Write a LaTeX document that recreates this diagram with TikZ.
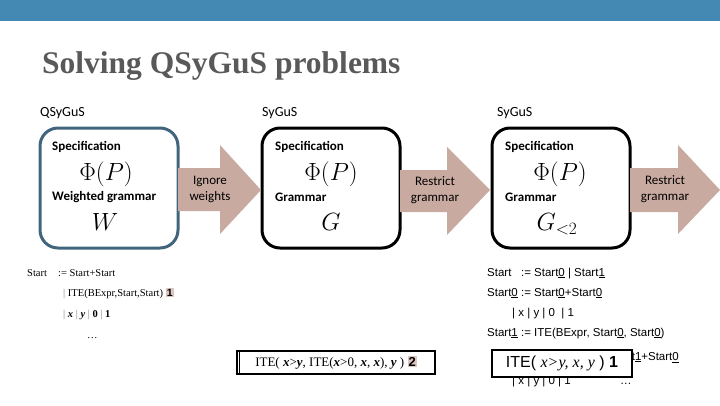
\documentclass[tikz,border=0pt]{standalone}
\usepackage{amsmath,amssymb}
\usepackage{fontspec}
\setmainfont{Liberation Serif}
\newfontfamily\calibri{Carlito}
\newfontfamily\arial{Liberation Sans}
\usetikzlibrary{positioning}
\definecolor{barblue}{HTML}{4389B3}
\definecolor{qblue}{HTML}{41657D}
\definecolor{arrowrose}{HTML}{C9AAA0}
\definecolor{hlrose}{HTML}{DCC6C0}
\definecolor{titlegray}{HTML}{595959}
\newcommand{\hlnum}[1]{{\setlength{\fboxsep}{1pt}\colorbox{hlrose}{\arial\bfseries #1}}}

\begin{document}
\begin{tikzpicture}[
  x=1pt, y=-1pt,
  probbox/.style={draw, line width=3pt, rounded corners=18pt, minimum width=138pt, minimum height=120pt},
  tag/.style={font=\calibri\fontsize{14}{16}\selectfont, inner sep=0pt, anchor=west},
  part/.style={font=\calibri\bfseries\fontsize{13}{15}\selectfont, inner sep=0pt, anchor=west},
  formula/.style={font=\fontsize{26}{30}\selectfont, inner sep=0pt},
  blockarr/.style={fill=arrowrose},
  arrtext/.style={font=\calibri\fontsize{13}{16}\selectfont, align=center, inner sep=0pt},
  gram/.style={font=\fontsize{10.5}{12}\selectfont, inner sep=0pt, anchor=base west},
  sgram/.style={font=\arial\fontsize{11.5}{13}\selectfont, inner sep=0pt, anchor=base west},
  exbox/.style={draw, line width=1.5pt, fill=white, inner sep=2pt}
]
\useasboundingbox (0,0) rectangle (720,405);
\fill[barblue] (0,0) rectangle (720,21);
\node[font=\bfseries\fontsize{31.5}{36}\selectfont, text=titlegray, inner sep=0pt, anchor=base west] (title) at (42,73) {Solving QSyGuS problems};

% the three problem boxes
\node[probbox, draw=qblue] (qsygus) at (109,188) {};
\node[probbox] (sygus) at (331,188) {};
\node[probbox] (sygusr) at (561,188) {};

\node[tag] (qsyguslbl) at (40,113) {QSyGuS};
\node[tag] (syguslbl) at (262,113) {SyGuS};
\node[tag] (sygusrlbl) at (497,113) {SyGuS};

\node[part] (spec1) at (52,147) {Specification};
\node[formula] (phi1) at (106,174) {$\Phi(P)$};
\node[part] (gram1) at (52,197) {Weighted grammar};
\node[formula] (w) at (105,222) {$W$};

\node[part] (spec2) at (275,147) {Specification};
\node[formula] (phi2) at (331,174) {$\Phi(P)$};
\node[part] (gram2) at (275,197) {Grammar};
\node[formula] (g) at (331,222) {$G$};

\node[part] (spec3) at (505,147) {Specification};
\node[formula] (phi3) at (560,174) {$\Phi(P)$};
\node[part] (gram3) at (505,197) {Grammar};
\node[formula] (glt) at (557,224) {$G_{<2}$};

% block arrows
\fill[blockarr] (178,168) -- (220,168) -- (220,145) -- (261,190) -- (220,234) -- (220,211) -- (178,211) -- cycle;
\node[arrtext] (ignore) at (210,189) {Ignore\\weights};
\fill[blockarr] (400,170) -- (447,170) -- (447,147) -- (490,190) -- (447,235) -- (447,212) -- (400,212) -- cycle;
\node[arrtext] (restrict1) at (435,190) {Restrict\\grammar};
\fill[blockarr] (630,168) -- (678,168) -- (678,145) -- (720,190) -- (678,234) -- (678,212) -- (630,212) -- cycle;
\node[arrtext] (restrict2) at (665,189) {Restrict\\grammar};

% weighted grammar
\node[gram] (st) at (27,276) {Start};
\node[gram] (r1) at (58,276) {:= Start+Start};
\node[gram] (r2) at (63,296) {\textcolor{gray}{|} ITE(BExpr,Start,Start) \hlnum{1}};
\node[gram] (r3) at (63,317) {\textcolor{gray}{|} \textbf{\textit{x}} \textcolor{gray}{|} \textbf{\textit{y}} \textcolor{gray}{|} \textbf{0} \textcolor{gray}{|} \textbf{1}};
\node[gram] (r4) at (87,338) {\dots};

\node[exbox, minimum width=198pt, minimum height=23pt] (ite2) at (336,362.5)
  {\fontsize{13}{14}\selectfont ITE( \textbf{\textit{x}}>\textbf{\textit{y}}, ITE(\textbf{\textit{x}}>0, \textbf{\textit{x}}, \textbf{\textit{x}}), \textbf{\textit{y}} ) \hlnum{2}};
\draw[line width=0.8pt] ([xshift=3.5pt]ite2.north west) -- ([xshift=3.5pt]ite2.south west);

% restricted grammar
\node[sgram] (s1) at (487,276) {Start\ \ \ := Start\underline{0} | Start\underline{1}};
\node[sgram] (s2) at (487,296) {Start\underline{0} := Start\underline{0}+Start\underline{0}};
\node[sgram] (s3) at (512,316) {| x | y | 0 \ | 1};
\node[sgram] (s4) at (487,336) {Start\underline{1} := ITE(BExpr, Start\underline{0}, Start\underline{0})};
\node[sgram, anchor=base east] (s5) at (679,360) {| Start\underline{1}+Start\underline{0}};
\node[sgram] (s6) at (512,384) {| x | y | 0 | 1 \hspace{4em}\dots};

\node[exbox, line width=2pt, minimum width=140pt, minimum height=27pt] (ite1) at (562,363)
  {\arial\fontsize{16}{18}\selectfont ITE( {\rmfamily\itshape x>y, x, y} ) \textbf{1}};
\end{tikzpicture}
\end{document}
